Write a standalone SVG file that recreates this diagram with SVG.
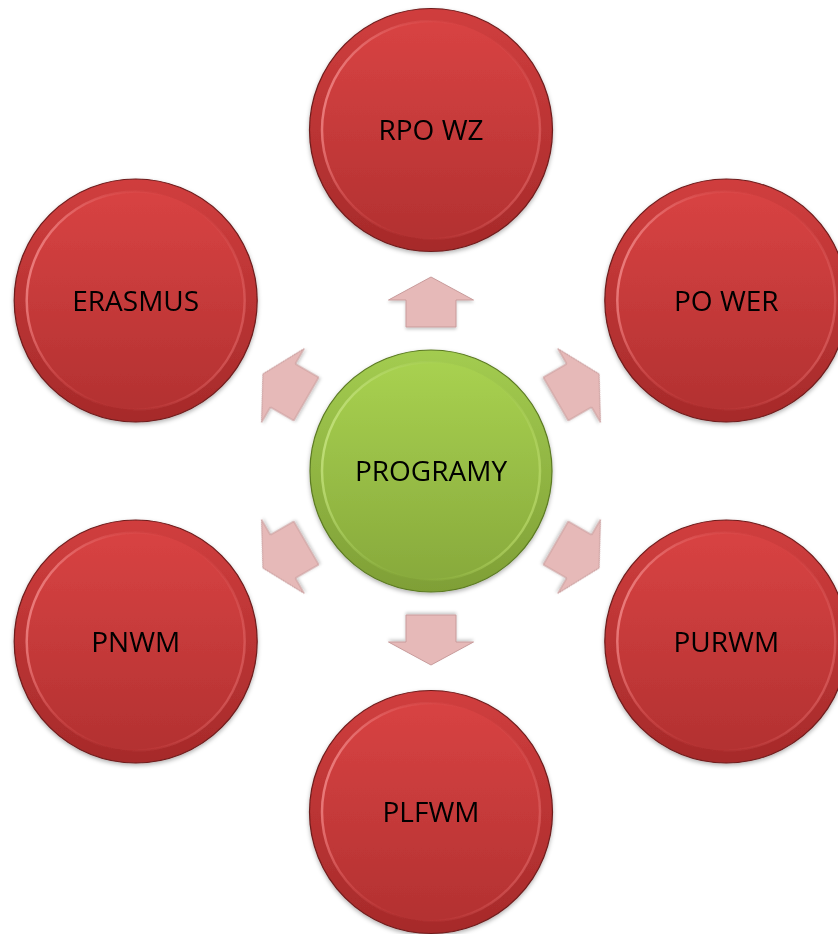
<svg xmlns="http://www.w3.org/2000/svg" width="838" height="934" viewBox="0 0 838 934">
<style>
  .lbl { font-family: "Open Sans", "Noto Sans", "Liberation Sans", sans-serif; font-size: 28px; fill: #000; text-anchor: middle; }
  .rimR { fill: url(#redOuter); stroke: #6e1c1c; stroke-width: 1.2; }
  .faceR { fill: url(#redInner); stroke: url(#redHi); stroke-width: 2.5; }
  .rimG { fill: url(#grnOuter); stroke: #5b7a22; stroke-width: 1.2; }
  .faceG { fill: url(#grnInner); stroke: url(#grnHi); stroke-width: 2.5; }
  .arrow { fill: #e6b9b8; stroke: #c89b9b; stroke-width: 1; filter: url(#shA); }
</style>
<defs>
  <linearGradient id="redOuter" x1="0" y1="0" x2="0" y2="1">
    <stop offset="0" stop-color="#d03e3e"/>
    <stop offset="1" stop-color="#a62a2a"/>
  </linearGradient>
  <linearGradient id="redInner" x1="0" y1="0" x2="0" y2="1">
    <stop offset="0" stop-color="#d84343"/>
    <stop offset="1" stop-color="#b33131"/>
  </linearGradient>
  <linearGradient id="redHi" x1="0" y1="0.2" x2="1" y2="0.5">
    <stop offset="0" stop-color="#f49090" stop-opacity="0.95"/>
    <stop offset="0.3" stop-color="#e46060" stop-opacity="0.4"/>
    <stop offset="0.6" stop-color="#d04040" stop-opacity="0"/>
    <stop offset="1" stop-color="#e87070" stop-opacity="0.5"/>
  </linearGradient>
  <linearGradient id="grnOuter" x1="0" y1="0" x2="0" y2="1">
    <stop offset="0" stop-color="#a3cc50"/>
    <stop offset="1" stop-color="#7f9f36"/>
  </linearGradient>
  <linearGradient id="grnInner" x1="0" y1="0" x2="0" y2="1">
    <stop offset="0" stop-color="#a8d150"/>
    <stop offset="1" stop-color="#88aa3c"/>
  </linearGradient>
  <linearGradient id="grnHi" x1="0" y1="0.2" x2="1" y2="0.5">
    <stop offset="0" stop-color="#cce886" stop-opacity="0.9"/>
    <stop offset="0.3" stop-color="#b4d868" stop-opacity="0.4"/>
    <stop offset="0.6" stop-color="#9cc448" stop-opacity="0"/>
    <stop offset="1" stop-color="#c0e070" stop-opacity="0.6"/>
  </linearGradient>
  <filter id="shC" x="-10%" y="-10%" width="120%" height="125%">
    <feDropShadow dx="0" dy="2" stdDeviation="2" flood-color="#000" flood-opacity="0.3"/>
  </filter>
  <filter id="shA" x="-20%" y="-20%" width="140%" height="150%">
    <feDropShadow dx="0" dy="2" stdDeviation="1.5" flood-color="#000" flood-opacity="0.2"/>
  </filter>
  <path id="arr" d="M-25,25 L-25,-2 L-42.5,-2 L0,-25 L42.5,-2 L25,-2 L25,25 Z"/>
</defs>
<rect width="838" height="934" fill="#ffffff"/>

<g id="connectors">
  <use href="#arr" class="arrow" transform="translate(431,302) rotate(0)"/>
  <use href="#arr" class="arrow" transform="translate(577.4,386.5) rotate(60)"/>
  <use href="#arr" class="arrow" transform="translate(577.4,555.5) rotate(120)"/>
  <use href="#arr" class="arrow" transform="translate(431,640) rotate(180)"/>
  <use href="#arr" class="arrow" transform="translate(284.6,555.5) rotate(240)"/>
  <use href="#arr" class="arrow" transform="translate(284.6,386.5) rotate(300)"/>
</g>

<g id="node-programy" filter="url(#shC)">
  <circle class="rimG" cx="431" cy="471" r="121"/>
  <circle class="faceG" cx="431" cy="471" r="109"/>
  <text class="lbl" x="431" y="481">PROGRAMY</text>
</g>

<g id="node-rpowz" filter="url(#shC)">
  <circle class="rimR" cx="431" cy="130" r="121.5"/>
  <circle class="faceR" cx="431" cy="130" r="109"/>
  <text class="lbl" x="431" y="140">RPO WZ</text>
</g>

<g id="node-power" filter="url(#shC)">
  <circle class="rimR" cx="726.3" cy="300.5" r="121.5"/>
  <circle class="faceR" cx="726.3" cy="300.5" r="109"/>
  <text class="lbl" x="726.3" y="310.5">PO WER</text>
</g>

<g id="node-purwm" filter="url(#shC)">
  <circle class="rimR" cx="726.3" cy="641.5" r="121.5"/>
  <circle class="faceR" cx="726.3" cy="641.5" r="109"/>
  <text class="lbl" x="726.3" y="651.5">PURWM</text>
</g>

<g id="node-plfwm" filter="url(#shC)">
  <circle class="rimR" cx="431" cy="812" r="121.5"/>
  <circle class="faceR" cx="431" cy="812" r="109"/>
  <text class="lbl" x="431" y="822">PLFWM</text>
</g>

<g id="node-pnwm" filter="url(#shC)">
  <circle class="rimR" cx="135.7" cy="641.5" r="121.5"/>
  <circle class="faceR" cx="135.7" cy="641.5" r="109"/>
  <text class="lbl" x="135.7" y="651.5">PNWM</text>
</g>

<g id="node-erasmus" filter="url(#shC)">
  <circle class="rimR" cx="135.7" cy="300.5" r="121.5"/>
  <circle class="faceR" cx="135.7" cy="300.5" r="109"/>
  <text class="lbl" x="135.7" y="310.5">ERASMUS</text>
</g>
</svg>
